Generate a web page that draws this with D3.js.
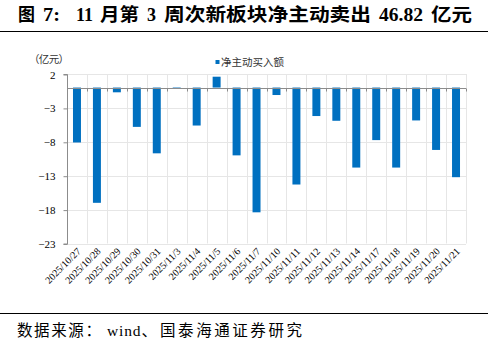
<!DOCTYPE html>
<html>
<head>
<meta charset="utf-8">
<script src="https://cdn.jsdelivr.net/npm/d3@7/dist/d3.min.js"></script>
<style>
  html, body { margin: 0; padding: 0; background: #fff; }
  svg { display: block; }
</style>
</head>
<body>
<svg id="chart" width="493" height="343"></svg>
<script>
// Trading days and net active buying (亿元) of the sub-new stock sector
const dates = [
  "2025/10/27", "2025/10/28", "2025/10/29", "2025/10/30", "2025/10/31",
  "2025/11/3", "2025/11/4", "2025/11/5", "2025/11/6", "2025/11/7",
  "2025/11/10", "2025/11/11", "2025/11/12", "2025/11/13", "2025/11/14",
  "2025/11/17", "2025/11/18", "2025/11/19", "2025/11/20", "2025/11/21"
];
const netBuy = [
  -8.1, -17.0, -0.7, -5.8, -9.7,
  -0.2, -5.6, 1.6, -10.0, -18.4,
  -1.1, -14.3, -4.2, -4.9, -11.8,
  -7.75, -11.8, -4.85, -9.2, -13.22
];
const yTicks = [2, -3, -8, -13, -18, -23];

// Title pieces: mixed CJK / Latin runs, each set at its own x
const titleParts = [
  { t: "图", x: 18, w: 17 },
  { t: "7:", x: 43, w: 17 },
  { t: "11", x: 76, w: 17 },
  { t: "月第", x: 100, w: 39 },
  { t: "3", x: 147, w: 9 },
  { t: "周次新板块净主动卖出", x: 164, w: 207 },
  { t: "46.82", x: 379, w: 44 },
  { t: "亿元", x: 431, w: 41 }
];
const unitText = "（亿元）";
const seriesName = "净主动买入额";
const sourceParts = [
  { t: "数据来源：", x: 17, w: 84 },
  { t: "wind、", x: 107, w: 50 },
  { t: "国泰海通证券研究", x: 160, w: 142 }
];

const svg = d3.select("#chart");
const serif = "'Liberation Serif', 'Times New Roman', 'Noto Sans CJK SC', serif";
const cjk = "'Liberation Serif', 'Noto Sans CJK SC', serif";

const plot = { left: 67, right: 466, top: 74, bottom: 243.5 };

const x = d3.scaleBand()
  .domain(dates)
  .range([plot.left, plot.right])
  .paddingInner(0.6)
  .paddingOuter(0.3);

const y = d3.scaleLinear()
  .domain([-23, 2])
  .range([plot.bottom, plot.top]);

// Title and its rule
svg.append("g")
  .selectAll("text")
  .data(titleParts)
  .join("text")
  .attr("x", d => d.x).attr("y", 21)
  .attr("font-family", cjk)
  .attr("font-size", 18.5)
  .attr("font-weight", "bold")
  .attr("fill", "#000")
  .attr("textLength", d => d.w)
  .attr("lengthAdjust", "spacingAndGlyphs")
  .text(d => d.t);

svg.append("line")
  .attr("x1", 0).attr("x2", 488)
  .attr("y1", 31.5).attr("y2", 31.5)
  .attr("stroke", "#000").attr("stroke-width", 1);

// Grid: horizontal at each tick, vertical at category boundaries
const step = x.step();
const boundaries = d3.range(dates.length + 1).map(i => plot.left + i * step);

svg.append("g")
  .selectAll("line.h")
  .data(yTicks)
  .join("line")
  .attr("x1", plot.left).attr("x2", plot.right)
  .attr("y1", d => Math.round(y(d)) + 0.5)
  .attr("y2", d => Math.round(y(d)) + 0.5)
  .attr("stroke", "#e6e6e6").attr("stroke-width", 1);

svg.append("g")
  .selectAll("line.v")
  .data(boundaries.slice(1))
  .join("line")
  .attr("x1", d => Math.round(d) + 0.5).attr("x2", d => Math.round(d) + 0.5)
  .attr("y1", plot.top).attr("y2", plot.bottom)
  .attr("stroke", "#e6e6e6").attr("stroke-width", 1);

// Bars
svg.append("g")
  .selectAll("rect")
  .data(dates.map((d, i) => ({ date: d, value: netBuy[i] })))
  .join("rect")
  .attr("x", d => x(d.date))
  .attr("width", x.bandwidth())
  .attr("y", d => y(Math.max(0, d.value)))
  .attr("height", d => Math.abs(y(d.value) - y(0)))
  .attr("fill", "#0070c0");

// Zero line with category ticks
const zeroY = Math.round(y(0)) + 0.5;
svg.append("line")
  .attr("x1", plot.left).attr("x2", plot.right)
  .attr("y1", zeroY).attr("y2", zeroY)
  .attr("stroke", "#8c8c8c").attr("stroke-width", 1);

svg.append("g")
  .selectAll("line")
  .data(boundaries)
  .join("line")
  .attr("x1", d => Math.round(d) + 0.5).attr("x2", d => Math.round(d) + 0.5)
  .attr("y1", zeroY).attr("y2", zeroY + 3)
  .attr("stroke", "#8c8c8c").attr("stroke-width", 1);

// Y axis
const yAxis = d3.axisLeft(y)
  .tickValues(yTicks)
  .tickSize(4)
  .tickPadding(8)
  .tickFormat(d3.format("d"));

const yg = svg.append("g")
  .attr("transform", `translate(${plot.left + 0.5},0.5)`)
  .call(yAxis);
yg.select(".domain").attr("stroke", "#8c8c8c").attr("d", `M-4,${y(2)}H0V${y(-23)}H-4`);
yg.selectAll(".tick line").attr("stroke", "#8c8c8c");
yg.selectAll(".tick text")
  .attr("font-family", serif)
  .attr("font-size", 11)
  .attr("fill", "#000");

// Unit label
svg.append("text")
  .attr("x", 29).attr("y", 63)
  .attr("font-family", "'Noto Sans CJK SC', sans-serif")
  .attr("font-size", 10.5)
  .attr("fill", "#333")
  .attr("textLength", 40)
  .attr("lengthAdjust", "spacing")
  .text(unitText);

// Legend
svg.append("rect")
  .attr("x", 215.5).attr("y", 60)
  .attr("width", 4).attr("height", 4)
  .attr("fill", "#0070c0");
svg.append("text")
  .attr("x", 221).attr("y", 66)
  .attr("font-family", "'Noto Sans CJK SC', sans-serif")
  .attr("font-size", 10.5)
  .attr("fill", "#333")
  .text(seriesName);

// Rotated date labels
svg.append("g")
  .selectAll("text")
  .data(dates)
  .join("text")
  .attr("transform", d => `translate(${x(d) + x.bandwidth() / 2 + 2},${plot.bottom + 6}) rotate(-45)`)
  .attr("text-anchor", "end")
  .attr("dy", "0.35em")
  .attr("font-family", serif)
  .attr("font-size", 10)
  .attr("fill", "#000")
  .text(d => d);

// Source note and its rule
svg.append("line")
  .attr("x1", 0).attr("x2", 488)
  .attr("y1", 313.5).attr("y2", 313.5)
  .attr("stroke", "#000").attr("stroke-width", 1);

svg.append("g")
  .selectAll("text")
  .data(sourceParts)
  .join("text")
  .attr("x", d => d.x).attr("y", 336)
  .attr("font-family", cjk)
  .attr("font-size", 15.5)
  .attr("fill", "#000")
  .attr("textLength", d => d.w)
  .attr("lengthAdjust", "spacing")
  .text(d => d.t);
</script>
</body>
</html>
